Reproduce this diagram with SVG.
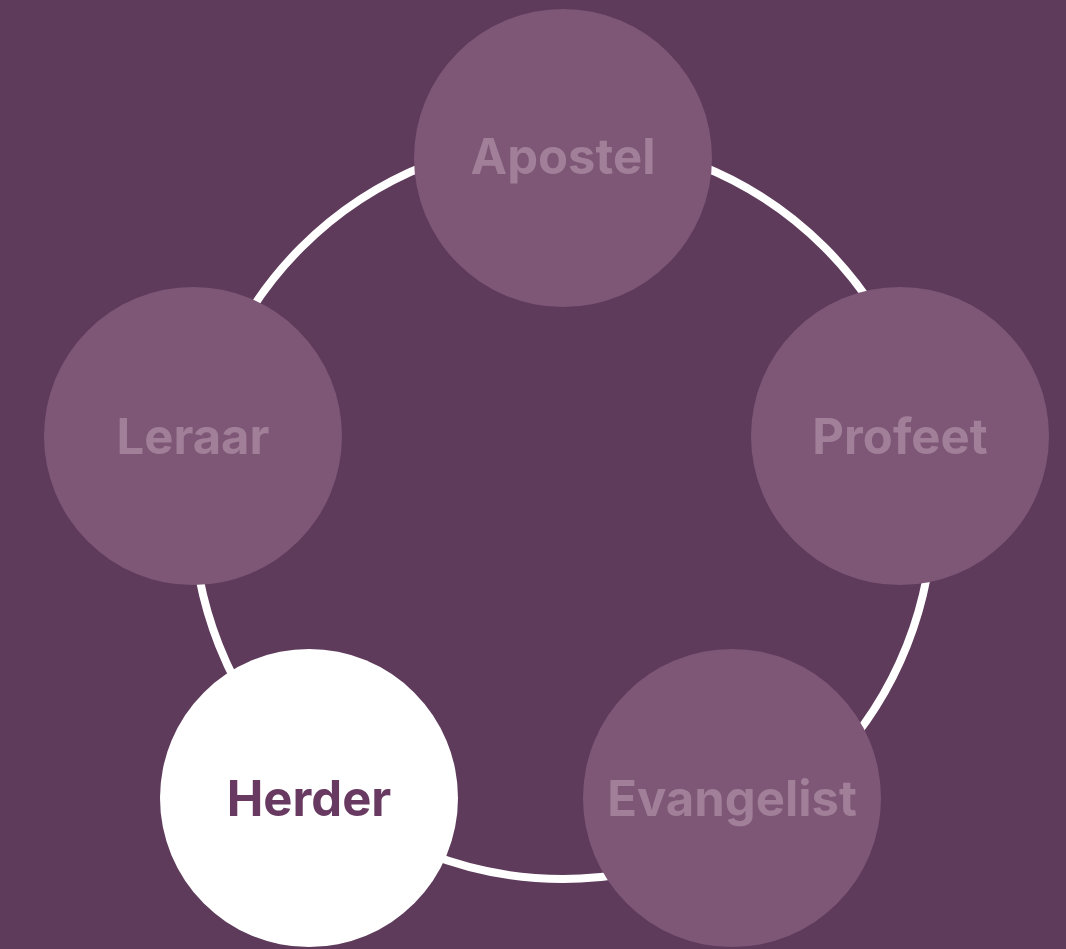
<svg xmlns="http://www.w3.org/2000/svg" width="1066" height="949" viewBox="0 0 1066 949">
<style>
.node{fill:#7E5776}
.lbl{font-family:Inter,"Liberation Sans",sans-serif;font-weight:700;font-size:49px;text-anchor:middle;fill:#A17F99}
.active{fill:#FFFFFF}
.active-lbl{fill:#683A61}
.ring{fill:none;stroke:#FFFFFF;stroke-width:8}
</style>
<rect width="1066" height="949" fill="#5E3A5B"/>
<g id="connectors">
<circle class="ring" cx="563" cy="509" r="370"/>
</g>
<g id="apostel">
<circle class="node" cx="563" cy="158" r="149"/>
<text class="lbl" x="563" y="174">Apostel</text>
</g>
<g id="profeet">
<circle class="node" cx="900" cy="436" r="149"/>
<text class="lbl" x="900" y="454">Profeet</text>
</g>
<g id="evangelist">
<circle class="node" cx="732" cy="798" r="149"/>
<text class="lbl" x="732" y="816">Evangelist</text>
</g>
<g id="herder">
<circle class="active" cx="309" cy="798" r="149"/>
<text class="lbl active-lbl" x="309" y="816">Herder</text>
</g>
<g id="leraar">
<circle class="node" cx="193" cy="436" r="149"/>
<text class="lbl" x="193" y="454">Leraar</text>
</g>
</svg>
